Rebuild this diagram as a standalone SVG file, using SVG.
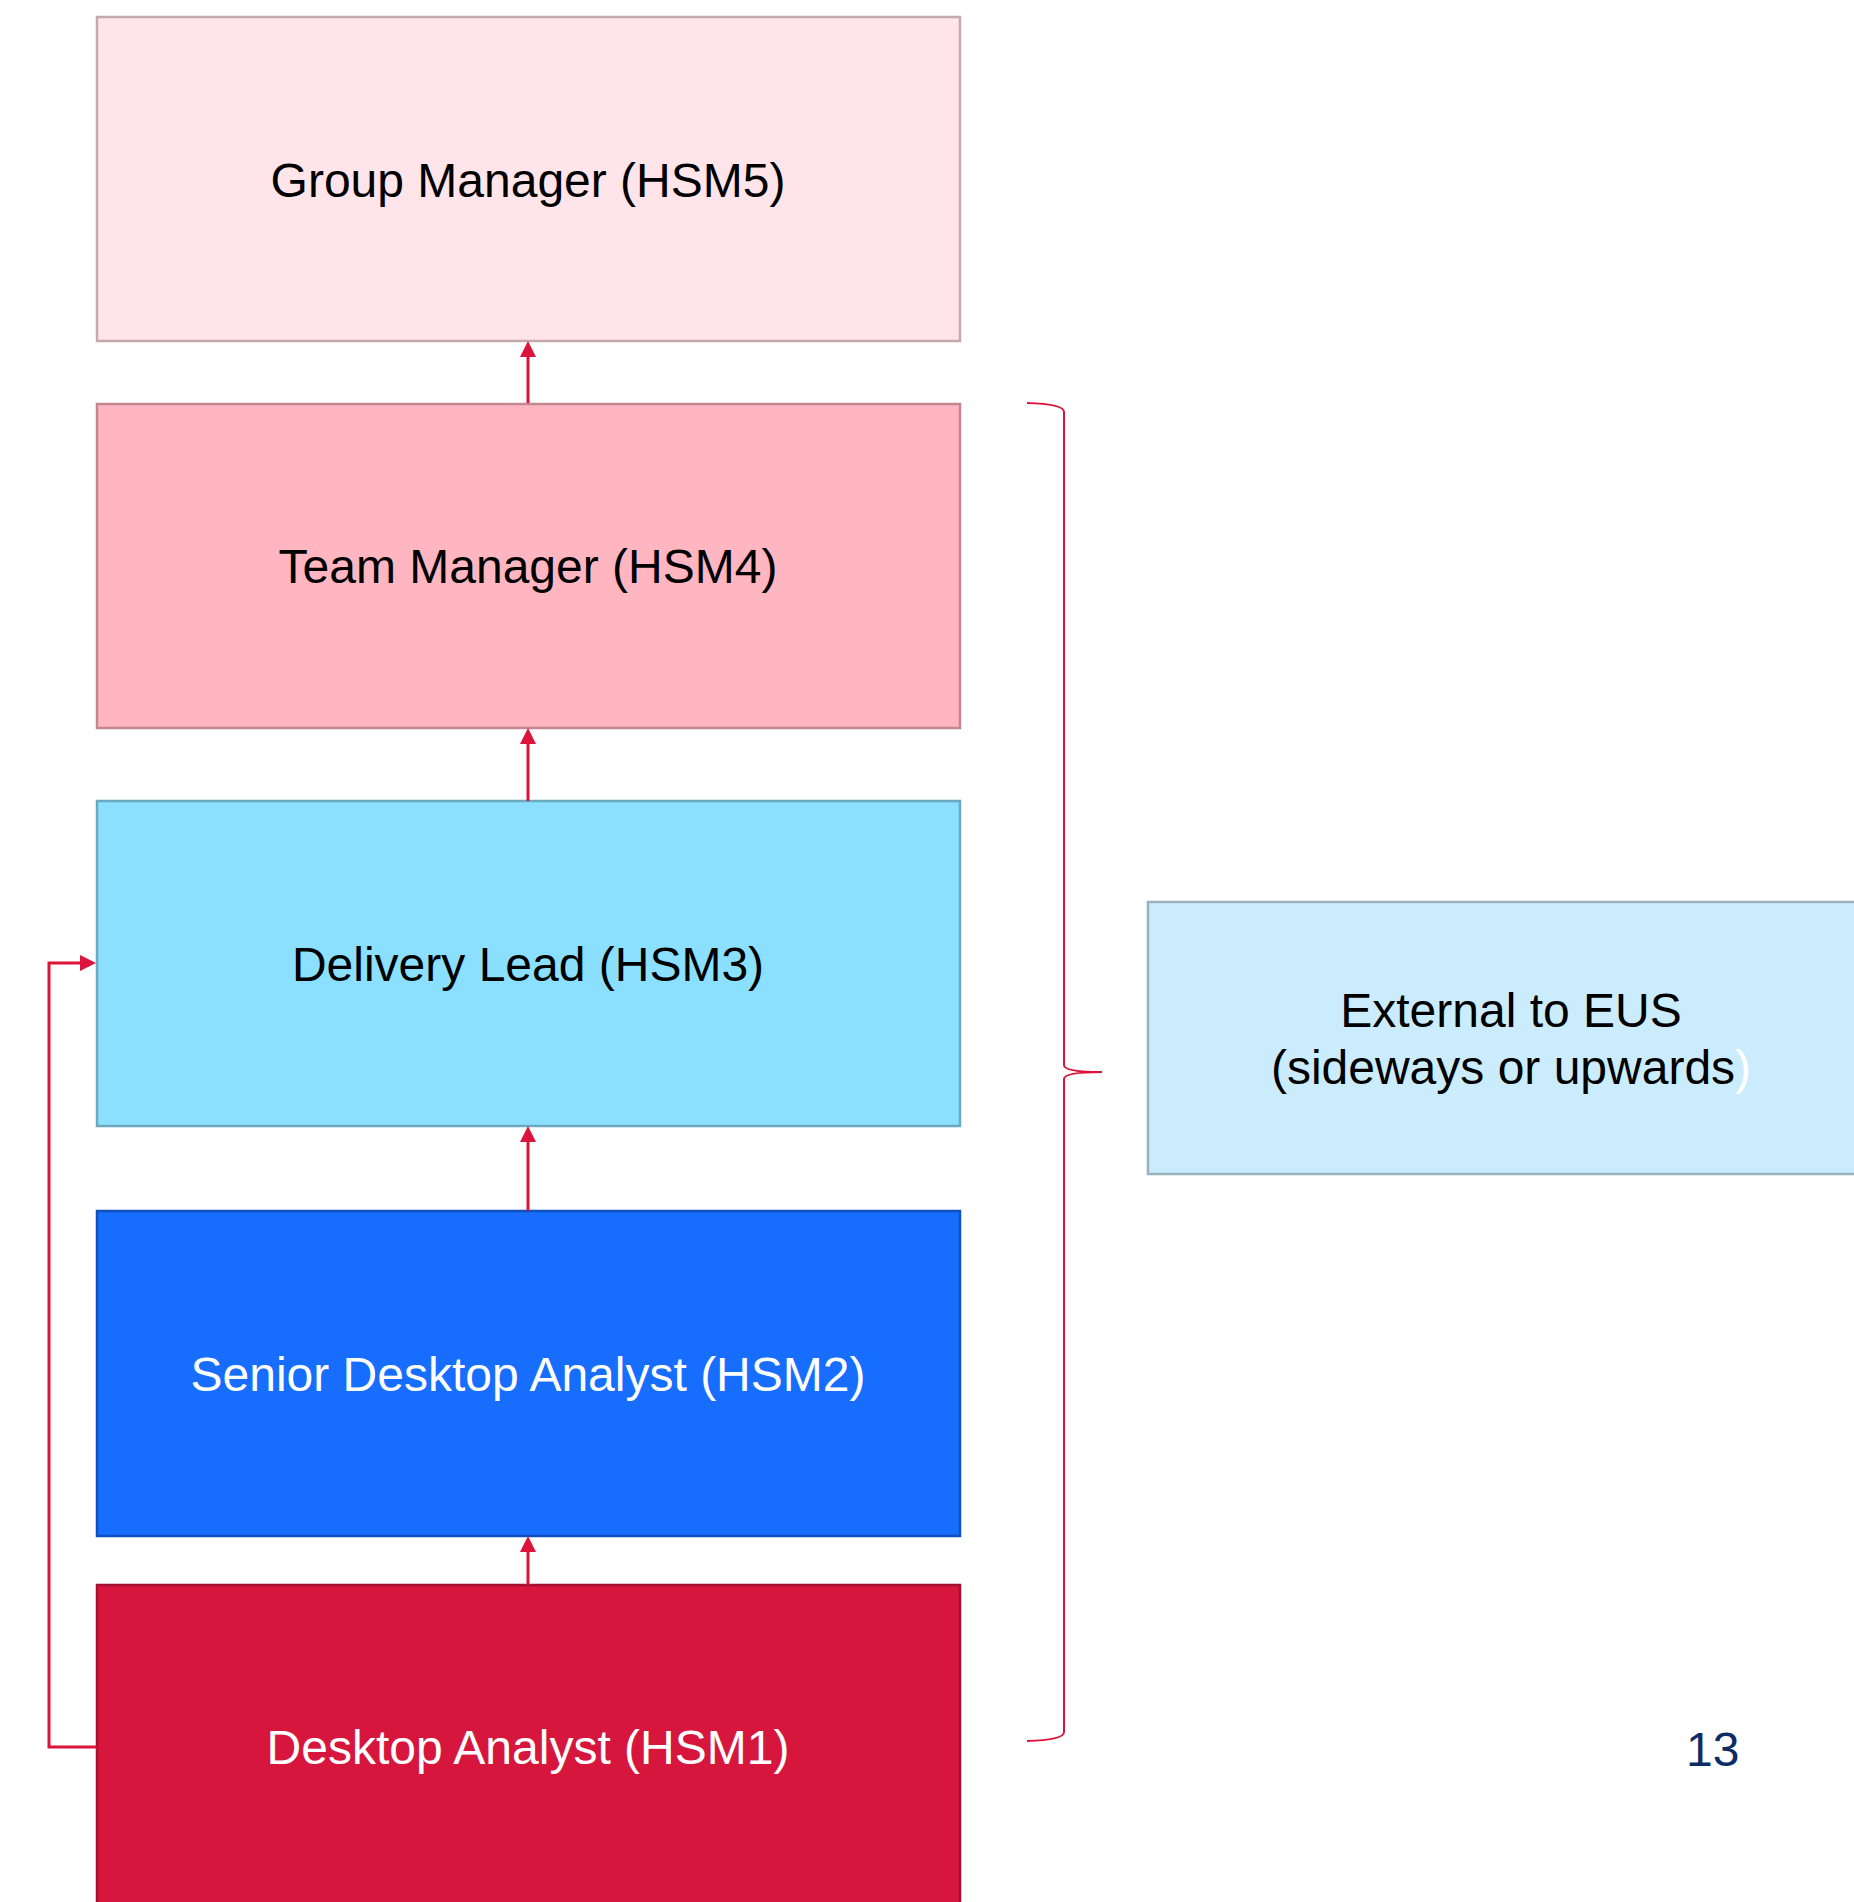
<svg xmlns="http://www.w3.org/2000/svg" width="1854" height="1902" viewBox="0 0 1854 1902">
  <style>
    .box { stroke-width: 2.5; }
    .lbl { font-family: "Liberation Sans", Arial, sans-serif; font-size: 48px; text-anchor: middle; }
    .dark { fill: #000000; }
    .light { fill: #ffffff; }
    .conn { fill: none; stroke: #dc143c; stroke-width: 3; }
    .brace { fill: none; stroke: #dc143c; stroke-width: 2; }
  </style>
  <defs>
    <marker id="arrow" markerUnits="userSpaceOnUse" markerWidth="16" markerHeight="16" viewBox="0 0 16 16" refX="0" refY="8" orient="auto">
      <path d="M0,0 L16,8 L0,16 z" fill="#dc143c"/>
    </marker>
  </defs>

  <rect width="1854" height="1902" fill="#ffffff"/>

  <!-- role hierarchy -->
  <g id="group-manager">
    <rect class="box" x="97" y="17" width="863" height="324" fill="#ffe4e9" stroke="#c4aab0"/>
    <text class="lbl dark" x="528" y="197">Group Manager (HSM5)</text>
  </g>
  <g id="team-manager">
    <rect class="box" x="97" y="404" width="863" height="324" fill="#ffb6c1" stroke="#c4878f"/>
    <text class="lbl dark" x="528" y="583">Team Manager (HSM4)</text>
  </g>
  <g id="delivery-lead">
    <rect class="box" x="97" y="801" width="863" height="325" fill="#8ae0fe" stroke="#6aa9bf"/>
    <text class="lbl dark" x="528" y="981">Delivery Lead (HSM3)</text>
  </g>
  <g id="senior-desktop-analyst">
    <rect class="box" x="97" y="1211" width="863" height="325" fill="#166dfe" stroke="#0f50bd"/>
    <text class="lbl light" x="528" y="1391">Senior Desktop Analyst (HSM2)</text>
  </g>
  <g id="desktop-analyst">
    <rect class="box" x="97" y="1585" width="863" height="330" fill="#d7163d" stroke="#a30f2e"/>
    <text class="lbl light" x="528" y="1764">Desktop Analyst (HSM1)</text>
  </g>

  <!-- external destination -->
  <g id="external">
    <rect class="box" x="1148" y="902" width="730" height="272" fill="#cbecfc" stroke="#9ab1be"/>
    <text class="lbl dark" x="1511" y="1027">External to EUS</text>
    <text class="lbl dark" x="1511" y="1084">(sideways or upwards<tspan class="light">)</tspan></text>
  </g>

  <!-- page number -->
  <g id="page-number">
    <text x="1686" y="1766" font-family="'Liberation Sans', Arial, sans-serif" font-size="48" fill="#0c2d63">13</text>
  </g>

  <!-- promotion paths -->
  <g id="connectors">
    <path class="conn" d="M528,403 L528,357" marker-end="url(#arrow)"/>
    <path class="conn" d="M528,801 L528,744" marker-end="url(#arrow)"/>
    <path class="conn" d="M528,1211 L528,1142" marker-end="url(#arrow)"/>
    <path class="conn" d="M528,1585 L528,1552" marker-end="url(#arrow)"/>
    <path class="conn" d="M97,1747 L49,1747 L49,963 L80,963" marker-end="url(#arrow)"/>
    <path class="brace" d="M1027,403 Q1064,404 1064,412 L1064,1065 Q1064,1072 1102,1072 Q1064,1072 1064,1079 L1064,1732 Q1064,1740 1027,1741"/>
  </g>
</svg>
